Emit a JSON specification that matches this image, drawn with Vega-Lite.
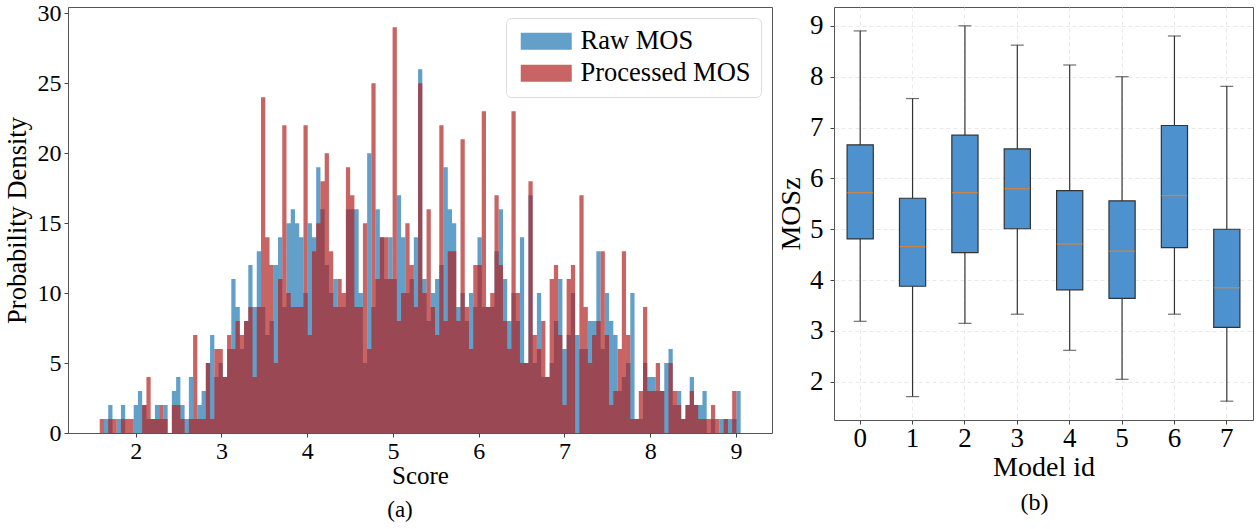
{
  "$schema": "https://vega.github.io/schema/vega-lite/v6.json",
  "background": "white",
  "padding": {"left": 3, "top": 0, "right": 4, "bottom": 2},
  "bounds": "flush",
  "spacing": 62,
  "config": {
    "font": "Liberation Serif",
    "view": {"stroke": "#555", "strokeWidth": 1},
    "axis": {"labelFont": "Liberation Serif", "titleFont": "Liberation Serif", "labelColor": "#000", "titleColor": "#000", "titleFontWeight": "normal", "domain": false, "tickColor": "#444", "tickSize": 4, "tickWidth": 1},
    "title": {"font": "Liberation Serif", "fontWeight": "normal", "color": "#000"},
    "legend": {"labelFont": "Liberation Serif"}
  },
  "datasets": {
    "hist": [
      {"s":1.58,"r":0,"p":1},
      {"s":1.6295,"r":1,"p":0},
      {"s":1.679,"r":2,"p":1},
      {"s":1.7285,"r":0,"p":1},
      {"s":1.778,"r":1,"p":0},
      {"s":1.8275,"r":2,"p":1},
      {"s":1.877,"r":0,"p":1},
      {"s":1.9265,"r":0,"p":1},
      {"s":1.976,"r":2,"p":0},
      {"s":2.0255,"r":3,"p":0},
      {"s":2.075,"r":2,"p":2},
      {"s":2.1245,"r":1,"p":4},
      {"s":2.174,"r":1,"p":1},
      {"s":2.2235,"r":2,"p":1},
      {"s":2.273,"r":1,"p":2},
      {"s":2.3225,"r":2,"p":1},
      {"s":2.372,"r":0,"p":0},
      {"s":2.4215,"r":3,"p":2},
      {"s":2.471,"r":4,"p":2},
      {"s":2.5205,"r":2,"p":1},
      {"s":2.57,"r":1,"p":0},
      {"s":2.6195,"r":4,"p":1},
      {"s":2.669,"r":1,"p":7},
      {"s":2.7185,"r":2,"p":1},
      {"s":2.768,"r":3,"p":1},
      {"s":2.8175,"r":5,"p":5},
      {"s":2.867,"r":7,"p":1},
      {"s":2.9165,"r":4,"p":6},
      {"s":2.966,"r":5,"p":6},
      {"s":3.0155,"r":4,"p":4},
      {"s":3.065,"r":6,"p":7},
      {"s":3.1145,"r":11,"p":6},
      {"s":3.164,"r":9,"p":8},
      {"s":3.2135,"r":6,"p":7},
      {"s":3.263,"r":8,"p":8},
      {"s":3.3125,"r":12,"p":9},
      {"s":3.362,"r":9,"p":4},
      {"s":3.4115,"r":13,"p":9},
      {"s":3.461,"r":9,"p":24},
      {"s":3.5105,"r":7,"p":14},
      {"s":3.56,"r":8,"p":12},
      {"s":3.6095,"r":12,"p":5},
      {"s":3.659,"r":14,"p":11},
      {"s":3.7085,"r":9,"p":22},
      {"s":3.758,"r":15,"p":10},
      {"s":3.8075,"r":16,"p":9},
      {"s":3.857,"r":15,"p":9},
      {"s":3.9065,"r":14,"p":9},
      {"s":3.956,"r":10,"p":22},
      {"s":4.0055,"r":15,"p":7},
      {"s":4.055,"r":14,"p":13},
      {"s":4.1045,"r":19,"p":15},
      {"s":4.154,"r":16,"p":18},
      {"s":4.2035,"r":12,"p":20},
      {"s":4.253,"r":10,"p":13},
      {"s":4.3025,"r":11,"p":9},
      {"s":4.352,"r":9,"p":11},
      {"s":4.4015,"r":9,"p":10},
      {"s":4.451,"r":16,"p":19},
      {"s":4.5005,"r":16,"p":17},
      {"s":4.55,"r":16,"p":9},
      {"s":4.5995,"r":10,"p":9},
      {"s":4.649,"r":5,"p":15},
      {"s":4.6985,"r":20,"p":6},
      {"s":4.748,"r":9,"p":25},
      {"s":4.7975,"r":16,"p":11},
      {"s":4.847,"r":14,"p":14},
      {"s":4.8965,"r":11,"p":14},
      {"s":4.946,"r":14,"p":11},
      {"s":4.9955,"r":11,"p":29},
      {"s":5.045,"r":17,"p":8},
      {"s":5.0945,"r":14,"p":10},
      {"s":5.144,"r":10,"p":15},
      {"s":5.1935,"r":11,"p":12},
      {"s":5.243,"r":14,"p":9},
      {"s":5.2925,"r":26,"p":25},
      {"s":5.342,"r":11,"p":10},
      {"s":5.3915,"r":8,"p":16},
      {"s":5.441,"r":10,"p":9},
      {"s":5.4905,"r":11,"p":7},
      {"s":5.54,"r":12,"p":22},
      {"s":5.5895,"r":19,"p":8},
      {"s":5.639,"r":16,"p":13},
      {"s":5.6885,"r":15,"p":13},
      {"s":5.738,"r":9,"p":8},
      {"s":5.7875,"r":10,"p":21},
      {"s":5.837,"r":8,"p":9},
      {"s":5.8865,"r":10,"p":6},
      {"s":5.936,"r":9,"p":12},
      {"s":5.9855,"r":14,"p":12},
      {"s":6.035,"r":9,"p":23},
      {"s":6.0845,"r":9,"p":9},
      {"s":6.134,"r":9,"p":10},
      {"s":6.1835,"r":13,"p":17},
      {"s":6.233,"r":16,"p":12},
      {"s":6.2825,"r":11,"p":8},
      {"s":6.332,"r":8,"p":6},
      {"s":6.3815,"r":10,"p":23},
      {"s":6.431,"r":8,"p":10},
      {"s":6.4805,"r":14,"p":5},
      {"s":6.53,"r":5,"p":5},
      {"s":6.5795,"r":17,"p":18},
      {"s":6.629,"r":5,"p":7},
      {"s":6.6785,"r":10,"p":6},
      {"s":6.728,"r":4,"p":8},
      {"s":6.7775,"r":4,"p":4},
      {"s":6.827,"r":5,"p":11},
      {"s":6.8765,"r":8,"p":12},
      {"s":6.926,"r":11,"p":7},
      {"s":6.9755,"r":6,"p":2},
      {"s":7.025,"r":7,"p":11},
      {"s":7.0745,"r":10,"p":12},
      {"s":7.124,"r":7,"p":0},
      {"s":7.1735,"r":6,"p":17},
      {"s":7.223,"r":6,"p":9},
      {"s":7.2725,"r":8,"p":5},
      {"s":7.322,"r":8,"p":7},
      {"s":7.3715,"r":13,"p":8},
      {"s":7.421,"r":6,"p":13},
      {"s":7.4705,"r":10,"p":7},
      {"s":7.52,"r":8,"p":2},
      {"s":7.5695,"r":7,"p":3},
      {"s":7.619,"r":3,"p":6},
      {"s":7.6685,"r":4,"p":13},
      {"s":7.718,"r":5,"p":7},
      {"s":7.7675,"r":10,"p":1},
      {"s":7.817,"r":1,"p":1},
      {"s":7.8665,"r":1,"p":3},
      {"s":7.916,"r":5,"p":9},
      {"s":7.9655,"r":4,"p":3},
      {"s":8.015,"r":4,"p":3},
      {"s":8.0645,"r":3,"p":5},
      {"s":8.114,"r":3,"p":3},
      {"s":8.1635,"r":5,"p":0},
      {"s":8.213,"r":6,"p":5},
      {"s":8.2625,"r":2,"p":3},
      {"s":8.312,"r":3,"p":2},
      {"s":8.3615,"r":1,"p":1},
      {"s":8.411,"r":2,"p":2},
      {"s":8.4605,"r":4,"p":3},
      {"s":8.51,"r":2,"p":2},
      {"s":8.5595,"r":2,"p":1},
      {"s":8.609,"r":3,"p":1},
      {"s":8.6585,"r":0,"p":1},
      {"s":8.708,"r":1,"p":2},
      {"s":8.7575,"r":0,"p":1},
      {"s":8.807,"r":1,"p":0},
      {"s":8.8565,"r":1,"p":1},
      {"s":8.906,"r":1,"p":0},
      {"s":8.9555,"r":1,"p":3},
      {"s":9.005,"r":3,"p":0},
      {"s":9.0545,"r":0,"p":0}
    ],
    "box": [
      {"model":"0","lo":3.19,"q1":4.81,"med":5.72,"q3":6.66,"hi":8.90},
      {"model":"1","lo":1.71,"q1":3.88,"med":4.66,"q3":5.61,"hi":7.57},
      {"model":"2","lo":3.15,"q1":4.54,"med":5.72,"q3":6.85,"hi":9.00},
      {"model":"3","lo":3.33,"q1":5.01,"med":5.80,"q3":6.58,"hi":8.62},
      {"model":"4","lo":2.62,"q1":3.81,"med":4.71,"q3":5.76,"hi":8.23},
      {"model":"5","lo":2.05,"q1":3.64,"med":4.57,"q3":5.56,"hi":8.00},
      {"model":"6","lo":3.33,"q1":4.64,"med":5.66,"q3":7.04,"hi":8.80},
      {"model":"7","lo":1.62,"q1":3.07,"med":3.85,"q3":5.00,"hi":7.81}
    ]
  },
  "hconcat": [
    {
      "width": 704,
      "height": 426,
      "title": {"text": "(a)", "orient": "bottom", "fontSize": 23, "offset": 11, "frame": "bounds", "anchor": "middle", "dx": 12},
      "data": {"name": "hist"},
      "encoding": {
        "x": {"field": "s", "type": "quantitative", "scale": {"domain": [1.21, 9.42], "nice": false, "zero": false},
              "axis": {"values": [2, 3, 4, 5, 6, 7, 8, 9], "format": "d", "title": "Score", "labelFontSize": 24, "titleFontSize": 25, "labelPadding": 2, "titlePadding": 0, "grid": false}}
      },
      "layer": [
        {
          "mark": {"type": "area", "interpolate": "step-after", "opacity": 0.7},
          "encoding": {
            "y": {"field": "r", "type": "quantitative", "title": "Probability Density", "scale": {"domain": [0, 30.45], "nice": false},
                  "axis": {"values": [0, 5, 10, 15, 20, 25, 30], "labelFontSize": 24, "titleFontSize": 26.5, "labelPadding": 3, "titlePadding": 6, "grid": false}},
            "color": {"datum": "Raw MOS", "type": "nominal",
                      "scale": {"domain": ["Raw MOS", "Processed MOS"], "range": ["#1f77b4", "#b22222"]},
                      "legend": {"title": null, "orient": "none", "legendX": 438, "legendY": 11, "labelFontSize": 26.5, "labelOffset": 38, "labelLimit": 0,
                                 "symbolType": "M-1,-1H5V1H-1Z", "symbolSize": 289, "symbolOpacity": 0.7, "symbolStrokeWidth": 0,
                                 "fillColor": "white", "strokeColor": "#dddddd", "cornerRadius": 5, "padding": 10, "rowPadding": 5}}
          }
        },
        {
          "mark": {"type": "area", "interpolate": "step-after", "opacity": 0.7},
          "encoding": {
            "y": {"field": "p", "type": "quantitative", "title": "Probability Density"},
            "color": {"datum": "Processed MOS", "type": "nominal"}
          }
        }
      ]
    },
    {
      "width": 419,
      "height": 413,
      "title": {"text": "(b)", "orient": "bottom", "fontSize": 24, "offset": 10, "frame": "group", "anchor": "middle", "dx": -9},
      "data": {"name": "box"},
      "encoding": {
        "x": {"field": "model", "type": "ordinal", "scale": {"paddingInner": 0, "paddingOuter": 0},
              "axis": {"title": "Model id", "labelAngle": 0, "labelFontSize": 27, "titleFontSize": 28, "labelPadding": 1, "titlePadding": 2,
                       "grid": true, "gridDash": [4, 3], "gridColor": "#e3e3e3", "gridWidth": 0.8, "bandPosition": 0.5}}
      },
      "layer": [
        {
          "mark": {"type": "rule", "color": "#333", "strokeWidth": 1.2},
          "encoding": {
            "y": {"field": "lo", "type": "quantitative", "title": "MOSz", "scale": {"domain": [1.25, 9.37], "nice": false, "zero": false},
                  "axis": {"values": [2, 3, 4, 5, 6, 7, 8, 9], "labelFontSize": 27, "titleFontSize": 28, "labelPadding": 7, "titlePadding": 4,
                           "grid": true, "gridDash": [4, 3], "gridColor": "#e3e3e3", "gridWidth": 0.8}},
            "y2": {"field": "hi"}
          }
        },
        {
          "mark": {"type": "tick", "color": "#333", "size": 13, "thickness": 1.2},
          "encoding": {"y": {"field": "lo", "type": "quantitative", "title": "MOSz"}}
        },
        {
          "mark": {"type": "tick", "color": "#333", "size": 13, "thickness": 1.2},
          "encoding": {"y": {"field": "hi", "type": "quantitative", "title": "MOSz"}}
        },
        {
          "mark": {"type": "bar", "fill": "#4d92cf", "stroke": "#333", "strokeWidth": 1.2, "width": {"band": 0.5}},
          "encoding": {"y": {"field": "q1", "type": "quantitative", "title": "MOSz"}, "y2": {"field": "q3"}}
        },
        {
          "mark": {"type": "tick", "color": "#ff7f0e", "size": 26, "thickness": 1.3},
          "encoding": {"y": {"field": "med", "type": "quantitative", "title": "MOSz"}}
        }
      ]
    }
  ]
}
